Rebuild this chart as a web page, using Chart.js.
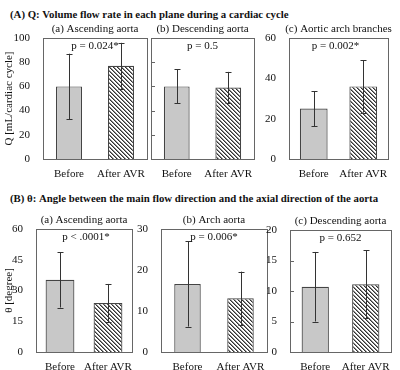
<!DOCTYPE html>
<html>
<head>
<meta charset="utf-8">
<script src="https://cdn.jsdelivr.net/npm/chart.js@4.4.0/dist/chart.umd.min.js"></script>
<style>
  body { margin: 0; background: #fff; }
  #wrap { position: relative; width: 400px; height: 370px; background: #fff; overflow: hidden; }
  .sec { position: absolute; left: 10px; font: bold 10.8px 'Liberation Serif', 'DejaVu Serif', serif; color: #111; white-space: nowrap; line-height: 12px; }
  canvas { position: absolute; }
</style>
</head>
<body>
<div id="wrap">
  <div class="sec" style="top:8px">(A) Q: Volume flow rate in each plane during a cardiac cycle</div>
  <div class="sec" style="top:192px">(B) θ: Angle between the main flow direction and the axial direction of the aorta</div>
</div>
<script>
// data
const groups = ['Before', 'After AVR'];

const qTitles = ['(a) Ascending aorta', '(b) Descending aorta', '(c) Aortic arch branches'];
const qMeans = [[60, 77], [60, 59], [25, 36]];
const qSD = [[27, 19], [14, 13], [8.7, 13]];
const qP = ['p = 0.024*', 'p = 0.5', 'p = 0.002*'];
const qMax = [100, 100, 60];
const qStep = [20, 20, 20];

const tTitles = ['(a) Ascending aorta', '(b) Arch aorta', '(c) Descending aorta'];
const tMeans = [[35.2, 23.9], [16.6, 13.1], [10.7, 11.1]];
const tSD = [[13.5, 9.3], [10.4, 6.5], [5.7, 5.6]];
const tP = ['p < .0001*', 'p = 0.006*', 'p = 0.652'];
const tMax = [60, 30, 20];
const tStep = [15, 10, 5];

const SERIF = "'Liberation Serif', 'DejaVu Serif', serif";
const FS = 11;

// hatch for "After AVR"
function makeHatch() {
    const c = document.createElement('canvas');
    c.width = 4; c.height = 4;
    const g = c.getContext('2d');
    const img = g.createImageData(4, 4);
    for (let y = 0; y < 4; y++) {
        for (let x = 0; x < 4; x++) {
            const k = ((x - y) % 4 + 4) % 4;
            const v = k == 0 ? 50 : (k == 1 ? 140 : 255);
            const i = (y * 4 + x) * 4;
            img.data[i] = v; img.data[i + 1] = v; img.data[i + 2] = v; img.data[i + 3] = 255;
        }
    }
    g.putImageData(img, 0, 0);
    return g.createPattern(c, 'repeat');
}
const hatch = makeHatch();

const panelDeco = {
    id: 'panelDeco',
    afterDatasetsDraw(chart) {
        const o = chart.options.plugins.panelDeco;
        const a = chart.chartArea;
        const ctx = chart.ctx;
        const ys = chart.scales.y;
        ctx.save();
        // error bars
        const meta = chart.getDatasetMeta(0);
        const ds = chart.data.datasets[0];
        ctx.strokeStyle = '#333';
        ctx.lineWidth = 1;
        meta.data.forEach(function(bar, i) {
            const m = ds.data[i], e = ds.errors[i];
            const x = Math.round(bar.x) + 0.5;
            const y1 = ys.getPixelForValue(m + e), y2 = ys.getPixelForValue(m - e);
            ctx.beginPath();
            ctx.moveTo(x, y1); ctx.lineTo(x, y2);
            ctx.moveTo(x - 3, Math.round(y1) + 0.5); ctx.lineTo(x + 3, Math.round(y1) + 0.5);
            ctx.moveTo(x - 3, Math.round(y2) + 0.5); ctx.lineTo(x + 3, Math.round(y2) + 0.5);
            ctx.stroke();
        });
        // box
        ctx.strokeStyle = '#666';
        ctx.strokeRect(Math.round(a.left) + 0.5, Math.round(a.top) + 0.5,
            Math.round(a.right - a.left), Math.round(a.bottom - a.top));
        // inner ticks
        if (o.innerTicks) {
            ys.ticks.forEach(function(t) {
                if (t.value <= ys.min || t.value >= ys.max) return;
                const y = Math.round(ys.getPixelForValue(t.value)) + 0.5;
                ctx.beginPath();
                ctx.moveTo(a.left, y); ctx.lineTo(a.left + 4, y);
                ctx.stroke();
            });
        }
        // texts
        ctx.fillStyle = '#111';
        ctx.textAlign = 'center';
        ctx.textBaseline = 'middle';
        ctx.font = FS + 'px ' + SERIF;
        const cx = (a.left + a.right) / 2;
        ctx.fillText(o.title, cx, a.top - 9);
        ctx.fillText(o.p, cx + (o.pdx || 0), a.top + 8);
        ctx.restore();
    }
};

function panel(box, yW, labels, means, sd, max, step, title, p, yLabel, extra) {
    const TOP = 24, BOT = 22, RIGHT = 4;
    const cv = document.createElement('canvas');
    const w = box[2] - box[0] + yW + RIGHT;
    const h = box[3] - box[1] + TOP + BOT;
    cv.width = w; cv.height = h;
    cv.style.left = (box[0] - yW) + 'px';
    cv.style.top = (box[1] - TOP) + 'px';
    cv.style.width = w + 'px';
    cv.style.height = h + 'px';
    document.getElementById('wrap').appendChild(cv);

    new Chart(cv.getContext('2d'), {
        type: 'bar',
        data: {
            labels: labels,
            datasets: [{
                data: means,
                errors: sd,
                backgroundColor: ['#c8c8c8', hatch],
                borderColor: '#444',
                borderWidth: 1.2,
                borderSkipped: 'bottom',
                barPercentage: extra.bar || 0.5,
                categoryPercentage: 1
            }]
        },
        options: {
            responsive: false,
            animation: false,
            events: [],
            layout: { padding: { top: TOP, right: RIGHT, left: 0, bottom: 0 } },
            plugins: {
                legend: { display: false },
                tooltip: { enabled: false },
                panelDeco: { title: title, p: p, innerTicks: extra.inner, pdx: extra.pdx }
            },
            scales: {
                x: {
                    grid: { display: false },
                    border: { display: false },
                    ticks: { color: '#111', font: { family: SERIF, size: FS }, padding: 1, maxRotation: 0, autoSkip: false },
                    afterFit: function(s) { s.height = BOT; }
                },
                y: {
                    min: 0, max: max,
                    grid: { display: false },
                    border: { display: false },
                    ticks: {
                        display: !extra.noLabels,
                        stepSize: step,
                        color: '#111',
                        padding: 5,
                        font: { family: SERIF, size: FS }
                    },
                    title: {
                        display: !!yLabel,
                        text: yLabel || '',
                        color: '#111',
                        padding: { top: 3, bottom: 0 },
                        font: { family: SERIF, size: FS }
                    },
                    afterFit: function(s) { s.width = yW; }
                }
            }
        },
        plugins: [panelDeco]
    });
}

// top row
panel([43, 38, 147, 159], 43, groups, qMeans[0], qSD[0], qMax[0], qStep[0], qTitles[0], qP[0], 'Q [mL/cardiac cycle]', {});
panel([151, 38, 254, 159], 30, groups, qMeans[1], qSD[1], qMax[1], qStep[1], qTitles[1], qP[1], null, { noLabels: true, inner: true });
panel([289, 38, 388, 159], 34, groups, qMeans[2], qSD[2], qMax[2], qStep[2], qTitles[2], qP[2], null, { bar: 0.56, pdx: -3 });

// bottom row
panel([36, 229, 132, 352], 36, groups, tMeans[0], tSD[0], tMax[0], tStep[0], tTitles[0], tP[0], 'θ [degree]', { bar: 0.6, pdx: 2 });
panel([161, 229, 267, 352], 34, groups, tMeans[1], tSD[1], tMax[1], tStep[1], tTitles[1], tP[1], null, {});
panel([290, 230, 391, 352], 34, groups, tMeans[2], tSD[2], tMax[2], tStep[2], tTitles[2], tP[2], null, { bar: 0.54, inner: true });
</script>
</body>
</html>
